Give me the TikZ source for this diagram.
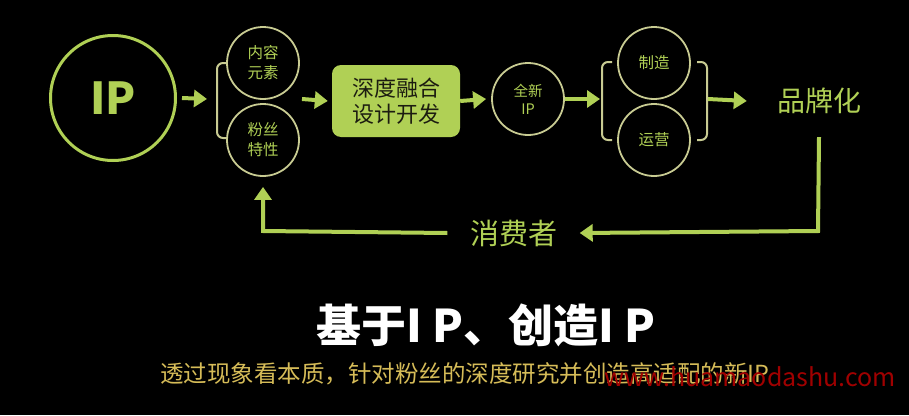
\documentclass[tikz,border=0pt]{standalone}
\usepackage{fontspec}
\setmainfont{Noto Sans CJK SC}
\usetikzlibrary{arrows.meta}
\definecolor{lg}{HTML}{B0D055}
\definecolor{rim}{HTML}{C8CB92}
\definecolor{gold}{HTML}{D6BC58}
\definecolor{wm}{HTML}{A00000}
\definecolor{boxtext}{HTML}{1C1C10}
\begin{document}
\begin{tikzpicture}[x=1pt,y=-1pt,
  flow/.style={draw=lg,line width=4pt,-{Triangle[width=17pt,length=13pt]}},
  smallc/.style={circle,draw=rim,line width=1.8pt,minimum size=72pt,inner sep=0pt,text=lg,
    font=\fontsize{15.5}{20}\selectfont,align=center},
  brk/.style={draw=rim,line width=2pt,rounded corners=6pt},
  bigtext/.style={text=lg,font=\fontsize{28}{32}\selectfont,inner sep=0pt}]
\fill[black] (0,0) rectangle (909,415);
\useasboundingbox (0,0) rectangle (909,415);

% big IP circle
\node[circle,draw=lg,line width=3pt,minimum size=125pt,inner sep=0pt,text=lg,
  font=\bfseries\fontsize{44}{48}\selectfont] (ip) at (113,98) {IP};

% first bracket and circles
\draw[brk] (227,63) -- (217,63) -- (217,138) -- (227,138);
\coordinate (lb1) at (217,99);
\node[smallc] (nr) at (263,63) {内容\\元素};
\node[smallc] (fs) at (263,140) {粉丝\\特性};
\coordinate (out1) at (302,99);

% box
\node[fill=lg,rounded corners=9pt,minimum width=128pt,minimum height=72pt,inner sep=0pt,
  text=boxtext,align=center,font=\fontsize{22}{26}\selectfont] (box) at (396,101) {深度融合\\设计开发};

% new IP circle
\node[smallc,font=\fontsize{14.5}{18}\selectfont] (xip) at (528,99) {全新\\IP};

% second bracket group
\draw[brk] (612,62) -- (602,62) -- (602,140) -- (612,140);
\draw[brk] (697,62) -- (707,62) -- (707,140) -- (697,140);
\coordinate (lb2) at (602,99);
\coordinate (rb2) at (707,99);
\node[smallc] (zz) at (654,63) {制造};
\node[smallc] (yy) at (654,140) {运营};

% brand
\node[bigtext] (brand) at (819,101) {品牌化};

% consumer
\node[bigtext,font=\fontsize{29}{32}\selectfont] (cons) at (514,233) {消费者};

% flows
\draw[flow] ([xshift=5pt]ip.east) -- ([xshift=-10pt]lb1);
\draw[flow] (out1) -- ([xshift=-4pt]box.west);
\draw[flow] (box.east) -- ([xshift=-5pt]xip.west);
\draw[flow] (xip.east) -- ([xshift=-2pt]lb2);
\draw[flow] ([xshift=1pt]rb2) -- ([xshift=-30pt]brand.west);

% return loop
\coordinate (c1) at (818,231);
\coordinate (c2) at (263,231);
\draw[flow] ([yshift=-23pt]brand.south) -- (c1) -- ([xshift=22pt]cons.east);
\draw[flow] ([xshift=-23pt]cons.west) -- (c2) -- ([yshift=-10pt]fs.south);

% titles
\node[text=white,font=\bfseries\fontsize{45}{48}\selectfont,inner sep=0pt] (title) at (486,325) {基于I P、创造I P};
\node[text=gold,font=\fontsize{23.5}{26}\selectfont,anchor=west,inner sep=0pt] (sub) at (160,374)
  {透过现象看本质，针对粉丝的深度研究并创造高适配的新IP};
\node[text=wm,font=\fontsize{25}{28}\selectfont,anchor=west,inner sep=0pt] (mark) at (604,377)
  {www.huamaodashu.com};
\end{tikzpicture}
\end{document}
